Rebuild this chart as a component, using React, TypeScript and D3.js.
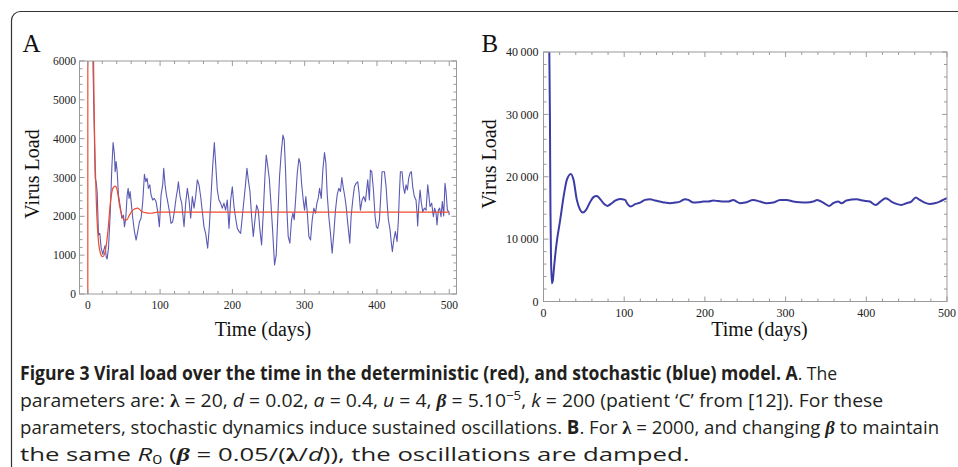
import React, { useLayoutEffect, useRef } from "react";
import * as d3 from "d3";

// Panel A, stochastic run (day, virus load)
const blueA: [number, number][] = [
  [4, 10000], [6.9, 6150], [10.2, 2980], [11.5, 2890], [12.9, 2640], [14.8, 1520], [16.6, 1560],
  [18.5, 1180], [20.8, 1020], [22.1, 1130], [24, 1250], [25.4, 960], [26.7, 900], [28.6, 1180],
  [30.9, 2030], [33.2, 3240], [35, 3900], [36.9, 3580], [37.8, 3150], [39.2, 3410], [40.6, 3150],
  [42.4, 2550], [45.2, 2210], [47, 1950], [49.3, 2030], [50.7, 1730], [52.5, 1950], [54.4, 2550],
  [55.8, 2720], [57.1, 2460], [58.5, 2640], [59.9, 2380], [62.2, 1950], [64.5, 1610], [66.8, 1390],
  [69.1, 1610], [71.4, 1860], [73.7, 1950], [76, 2380], [78.3, 3080], [80.2, 2890], [82, 2980],
  [83.8, 2720], [85.7, 2810], [87.5, 2550], [89.8, 2420], [92.1, 2460], [94.4, 2380], [96.7, 2120],
  [99, 1730], [101.3, 2550], [103.6, 2810], [105, 3240], [106.9, 2810], [108.7, 2550], [110.5, 2380],
  [112.9, 2120], [115.1, 1820], [117.4, 1860], [119.7, 2120], [122, 2460], [124.3, 2720],
  [125.3, 2890], [127.6, 2510], [129.9, 2340], [133.1, 1730], [135.4, 2340], [137.7, 2720],
  [140, 2420], [142.3, 1950], [144.6, 2510], [146.9, 2210], [149.2, 2510], [151.5, 2940],
  [153.8, 2810], [156.1, 2510], [158.4, 2120], [160.7, 1730], [163, 1560], [165.8, 1180],
  [168.1, 1730], [170.4, 2510], [172.7, 3280], [175, 3900], [176.8, 3370], [179.1, 2680],
  [181.4, 2420], [183.7, 2340], [186, 2210], [188.3, 2340], [190.6, 2160], [192.9, 2420],
  [195.3, 1690], [197.6, 2420], [199.9, 2760], [202.2, 2250], [204.5, 1950], [206.8, 1690],
  [209.1, 1610], [211.4, 1560], [213.7, 1990], [216, 2420], [218.3, 2850], [220.1, 3240],
  [222, 2940], [224.3, 2640], [226.6, 1990], [228.9, 1480], [231.2, 1910], [233.5, 2290],
  [235.8, 2160], [238.1, 1650], [240.4, 1260], [242.7, 2080], [245, 3020], [246.8, 3580],
  [248.7, 3320], [251, 2980], [253.3, 2340], [255.6, 1650], [258.3, 750], [260.6, 1000],
  [263, 2080], [265.2, 3020], [267.5, 3620], [269.9, 4090], [271.7, 3970], [273.5, 3190],
  [275.4, 2160], [277.2, 1480], [279.5, 1310], [281.8, 1910], [283.7, 2080], [285.5, 1910],
  [287.4, 2420], [289.7, 3110], [292, 3490], [293.8, 3370], [295.7, 2850], [298, 2420],
  [299.8, 2160], [301.6, 2510], [303.5, 2120], [305.8, 1480], [308.1, 1390], [310.4, 1910],
  [312.7, 2210], [315, 2080], [316.9, 2340], [318.7, 2460], [320.6, 2720], [322.9, 2460],
  [325.1, 3190], [327.4, 3640], [329.3, 3370], [331.1, 2590], [333.4, 1990], [335.7, 1560],
  [338, 1050], [340.3, 1560], [342.6, 2160], [344.9, 2550], [347.2, 2720], [349.5, 2640],
  [351.4, 3000], [353.2, 2760], [355.5, 2510], [357.4, 2250], [359.6, 1820], [362.4, 1310],
  [364.2, 1990], [366.5, 2420], [368.8, 2760], [371.1, 2850], [373.4, 2890], [375.3, 2590],
  [377.1, 2160], [379.4, 2420], [381.7, 2510], [384, 2380], [387.2, 2940], [389.5, 2420],
  [390.9, 3190], [392.8, 3150], [395.1, 2680], [397.4, 1990], [399.2, 1730], [401.1, 1690],
  [403.4, 1910], [405.2, 2510], [407, 3150], [410.3, 3150], [412.6, 2760], [414.4, 2250],
  [415.8, 1910], [418.1, 1650], [419.9, 1310], [421.3, 1090], [423.2, 1390], [425.5, 1610],
  [427.8, 1350], [429.6, 1910], [431, 2590], [432.4, 3150], [434.7, 3150], [436.5, 2760],
  [438.4, 2590], [440.2, 2810], [442.1, 2680], [443.9, 2980], [445.7, 3110], [447.6, 3150],
  [449.4, 2760], [451.7, 2510], [454, 2420], [455.4, 2080], [456.3, 1750], [457.7, 2250],
  [459.6, 2680], [461.4, 2340], [463.3, 2120], [465.6, 2210], [467.9, 2160], [470.2, 2810],
  [471.5, 2590], [473.4, 2250], [475.7, 2340], [478, 1990], [479.8, 2210], [481.7, 2080],
  [483, 1780], [484.9, 2160], [486.7, 2210], [488.6, 1990], [490.4, 2380], [492.3, 2010],
  [494.1, 2850], [495.5, 2640], [497.4, 2160], [499.2, 2120], [500, 2030],
];

// Panel A, deterministic run
const redA: [number, number][] = [
  [0, 0], [0.3, 80000], [4, 20000], [7.9, 6150], [11.5, 2550], [14.8, 1350], [18.5, 1000],
  [20.8, 960], [24, 1090], [27.7, 1600], [31.4, 2380], [34.6, 2720], [37.8, 2780], [40.6, 2680],
  [43.8, 2290], [47, 2030], [50.7, 1910], [53.9, 1910], [57.6, 2030], [62.2, 2160], [69.1, 2210],
  [73.7, 2140], [80.6, 2090], [87.5, 2080], [96.7, 2110], [500, 2110],
];

// Panel B, stochastic run with lambda = 2000
const blueB: [number, number][] = [
  [5, 80000], [7.2, 40000], [8, 29000], [8.6, 15000], [9.3, 7000], [10.4, 2900], [11.5, 3300],
  [12.4, 4550], [15.7, 8810], [20.7, 13090], [25.6, 17370], [28.9, 19500], [33.9, 20460],
  [37.2, 19500], [41.3, 16290], [45.4, 14690], [48.7, 14260], [52.8, 14690], [57, 15760],
  [61.9, 16730], [66, 16930], [70.2, 16410], [75.1, 15650], [79.3, 15330], [83.4, 15650],
  [88.7, 16180], [94.9, 16450], [101.1, 16290], [104, 15650], [108.1, 15220], [113.5, 15600],
  [119.7, 15860], [125.8, 16290], [132, 16410], [138.2, 16180], [144.4, 16020], [150.6, 15860],
  [156.8, 15760], [163, 15860], [169.2, 16020], [175.4, 16410], [179.5, 16290], [185.7, 15860],
  [191.9, 15900], [198.1, 16020], [204.3, 16020], [210.4, 16180], [216.6, 16100], [222.8, 16020],
  [229, 16020], [235.2, 16290], [239.3, 16020], [243.5, 15760], [250, 15860], [260, 16290],
  [268.2, 16020], [276.5, 15760], [284.7, 15860], [293, 16290], [301.2, 16290], [309.5, 16020],
  [317.7, 15900], [326, 15860], [334.2, 16020], [339.2, 16290], [346.5, 15860], [353.9, 15330],
  [358.9, 15760], [365.1, 16020], [369.2, 15760], [375.4, 16180], [387.8, 16410], [396, 16180],
  [404.3, 16020], [411.7, 15490], [417.5, 16020], [424.1, 16570], [431.1, 16020], [437.3, 15650],
  [443.5, 15490], [449.7, 15760], [455.9, 16020], [461.3, 16660], [466.2, 16290], [472.4, 15860],
  [478.6, 15650], [484.8, 15760], [491, 16020], [497.1, 16410], [500, 16570],
];

const xTicks = [0, 100, 200, 300, 400, 500];
const yTicksA = [0, 1000, 2000, 3000, 4000, 5000, 6000];
const yLabelsA = ["0", "1000", "2000", "3000", "4000", "5000", "6000"];
const yTicksB = [0, 10000, 20000, 30000, 40000];
const yLabelsB = ["0", "10\u2009000", "20\u2009000", "30\u2009000", "40\u2009000"];

// right edge of each caption line in the reference
const captionEnds = [838, 884, 940, 690];

const SERIF = "'Liberation Serif', 'DejaVu Serif', serif";
const SANS = "'Open Sans', 'Noto Sans', sans-serif";
const GRID = "#9a9a9a";

type Series = { data: [number, number][]; color: string; width: number; smooth: boolean };

function Panel(props: {
  id: string;
  x: d3.ScaleLinear<number, number>;
  y: d3.ScaleLinear<number, number>;
  xMinor: number;
  yMinor: number;
  yTicks: number[];
  yLabels: string[];
  labelGap: number;
  fontSize: number;
  series: Series[];
  letter: string;
  letterX: number;
  yTitleX: number;
  yTitleY: number;
  xTitleX: number;
}) {
  const { id, x, y, xMinor, yMinor, yTicks, yLabels, labelGap, fontSize, series } = props;
  const [x0, x1] = x.range();
  const [y0, y1] = y.range();
  const yMax = yTicks[yTicks.length - 1];
  const minorX = d3.range(0, 500 + 1, xMinor);
  const minorY = d3.range(0, yMax + 1, yMinor);
  const big = 5;
  const small = 3;
  return (
    <g>
      <defs>
        <clipPath id={id}>
          <rect x={x0} y={y1} width={x1 - x0} height={y0 - y1} />
        </clipPath>
      </defs>
      <g clipPath={`url(#${id})`}>
        {series.map((s, i) => {
          const line = d3
            .line<[number, number]>()
            .x((d) => x(d[0]))
            .y((d) => y(d[1]))
            .curve(s.smooth ? d3.curveMonotoneX : d3.curveLinear);
          return (
            <path key={i} d={line(s.data) ?? ""} fill="none" stroke={s.color} strokeWidth={s.width} strokeLinejoin="round" />
          );
        })}
      </g>
      <rect x={x0} y={y1} width={x1 - x0} height={y0 - y1} fill="none" stroke={GRID} strokeWidth={1} />
      {minorX.map((v) => {
        const len = v % 100 === 0 ? big : small;
        const px = x(v);
        return (
          <g key={"x" + v} stroke={GRID} strokeWidth={1}>
            <line x1={px} x2={px} y1={y0} y2={y0 - len} />
            <line x1={px} x2={px} y1={y1} y2={y1 + len} />
          </g>
        );
      })}
      {minorY.map((v) => {
        const len = yTicks.includes(v) ? big : small;
        const py = y(v);
        return (
          <g key={"y" + v} stroke={GRID} strokeWidth={1}>
            <line x1={x0} x2={x0 + len} y1={py} y2={py} />
            <line x1={x1} x2={x1 - len} y1={py} y2={py} />
          </g>
        );
      })}
      {xTicks.map((v) => (
        <text key={"xl" + v} x={x(v)} y={y0 + 15} textAnchor="middle" fontFamily={SERIF} fontSize={fontSize} fill="#222">
          {v}
        </text>
      ))}
      {yTicks.map((v, i) => (
        <text key={"yl" + v} x={x0 - labelGap} y={y(v)} dy="0.35em" textAnchor="end" fontFamily={SERIF} fontSize={fontSize} fill="#222">
          {yLabels[i]}
        </text>
      ))}
      <text x={props.letterX} y={51.5} fontFamily={SERIF} fontSize={25} fill="#111">
        {props.letter}
      </text>
      <text transform={`translate(${props.yTitleX},${props.yTitleY}) rotate(-90)`} textAnchor="middle" fontFamily={SERIF} fontSize={20} fill="#111">
        Virus Load
      </text>
      <text x={props.xTitleX} y={336} textAnchor="middle" fontFamily={SERIF} fontSize={20} fill="#111">
        Time (days)
      </text>
    </g>
  );
}

export default function App() {
  const xA = d3.scaleLinear().domain([-11.5, 510]).range([79.5, 456.5]);
  const yA = d3.scaleLinear().domain([0, 6000]).range([294, 61]);
  const xB = d3.scaleLinear().domain([0, 500]).range([543.5, 947]);
  const yB = d3.scaleLinear().domain([0, 40000]).range([301.5, 52]);

  const capRef = useRef<SVGGElement>(null);

  // scale each caption line horizontally so it ends where the reference line ends
  useLayoutEffect(() => {
    const g = capRef.current;
    if (!g) return;
    g.querySelectorAll<SVGTextElement>("text").forEach((t, i) => {
      const w = t.getBBox().width;
      if (!w) return;
      const sx = (captionEnds[i] - 20) / w;
      t.setAttribute("transform", `translate(20,0) scale(${sx},1) translate(-20,0)`);
    });
  }, []);

  const cap = { fontFamily: SANS, fontSize: 19, fill: "#231f20", x: 20 } as const;

  return (
    <svg width={958} height={467} style={{ position: "absolute", left: 0, top: 0, background: "#fff" }}>
      <rect x={11.5} y={11.5} width={1000} height={600} rx={9} fill="#fff" stroke="#333" strokeWidth={1.2} />
      <Panel
        id="clipA"
        x={xA}
        y={yA}
        xMinor={20}
        yMinor={200}
        yTicks={yTicksA}
        yLabels={yLabelsA}
        labelGap={3.5}
        fontSize={11.5}
        series={[
          { data: blueA, color: "#5a5ab4", width: 1.1, smooth: false },
          { data: redA, color: "#ee4a2e", width: 1.2, smooth: true },
        ]}
        letter="A"
        letterX={22.5}
        yTitleX={39}
        yTitleY={174}
        xTitleX={263}
      />
      <Panel
        id="clipB"
        x={xB}
        y={yB}
        xMinor={20}
        yMinor={2000}
        yTicks={yTicksB}
        yLabels={yLabelsB}
        labelGap={5}
        fontSize={12}
        series={[{ data: blueB, color: "#3c3ca6", width: 2, smooth: true }]}
        letter="B"
        letterX={481.5}
        yTitleX={496}
        yTitleY={164}
        xTitleX={759.5}
      />
      <g ref={capRef}>
        <text y={380} {...cap}>
          <tspan fontWeight="bold">
            Figure 3 Viral load over the time in the deterministic (red), and stochastic (blue) model. A
          </tspan>
          <tspan>. The</tspan>
        </text>
        <text y={407} {...cap}>
          <tspan>parameters are: </tspan>
          <tspan fontFamily={SERIF} fontWeight="bold">λ</tspan>
          <tspan> = 20, </tspan>
          <tspan fontStyle="italic">d</tspan>
          <tspan> = 0.02, </tspan>
          <tspan fontStyle="italic">a</tspan>
          <tspan> = 0.4, </tspan>
          <tspan fontStyle="italic">u</tspan>
          <tspan> = 4, </tspan>
          <tspan fontFamily={SERIF} fontStyle="italic" fontWeight="bold">β</tspan>
          <tspan> = 5.10</tspan>
          <tspan fontSize={13} dy={-7}>−5</tspan>
          <tspan dy={7}>, </tspan>
          <tspan fontStyle="italic">k</tspan>
          <tspan> = 200 (patient ‘C’ from [12]). For these</tspan>
        </text>
        <text y={434} {...cap}>
          <tspan>parameters, stochastic dynamics induce sustained oscillations. </tspan>
          <tspan fontWeight="bold">B</tspan>
          <tspan>. For </tspan>
          <tspan fontFamily={SERIF} fontWeight="bold">λ</tspan>
          <tspan> = 2000, and changing </tspan>
          <tspan fontFamily={SERIF} fontStyle="italic" fontWeight="bold">β</tspan>
          <tspan> to maintain</tspan>
        </text>
        <text y={461} {...cap}>
          <tspan>the same </tspan>
          <tspan fontStyle="italic">R</tspan>
          <tspan fontSize={13} dy={3}>0</tspan>
          <tspan dy={-3}> (</tspan>
          <tspan fontFamily={SERIF} fontStyle="italic" fontWeight="bold">β</tspan>
          <tspan> = 0.05/(</tspan>
          <tspan fontFamily={SERIF} fontWeight="bold">λ</tspan>
          <tspan>/</tspan>
          <tspan fontStyle="italic">d</tspan>
          <tspan>)), the oscillations are damped.</tspan>
        </text>
      </g>
    </svg>
  );
}
